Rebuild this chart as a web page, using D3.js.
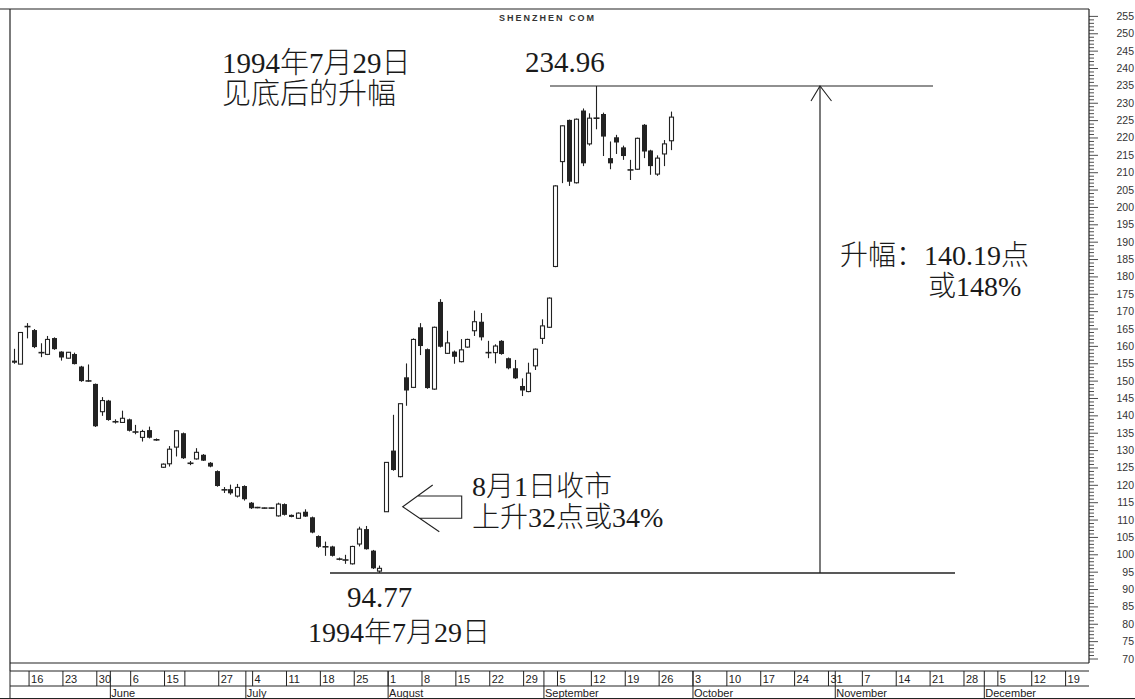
<!DOCTYPE html>
<html><head><meta charset="utf-8">
<script src="https://cdn.jsdelivr.net/npm/d3@7"></script>
<style>body{margin:0;background:#fff}svg{display:block}</style>
</head><body><svg id="c" width="1135" height="699"></svg>
<script>
// ---- data ----
const opens  = [155.9,154.9,165.8,164.7,158.4,157.7,162.4,158.5,156.6,157.8,154.2,150.2,149.2,141.2,144.4,138.4,138.1,139.0,135.5,133.8,135.9,133.2,125.2,126.2,131.0,135.0,126.5,127.6,128.8,126.5,124.1,118.8,118.9,116.9,119.8,115.0,113.7,113.5,113.5,111.2,114.6,111.5,110.5,112.4,110.8,105.4,102.4,102.4,98.9,98.6,97.4,103.1,107.4,101.2,95.3,112.4,130.0,122.5,151.1,148.2,165.5,159.2,147.7,172.8,158.0,158.5,155.6,159.8,164.5,167.1,158.3,158.2,161.6,156.6,153.7,148.6,147.0,154.4,162.3,165.5,183.0,213.2,225.2,207.1,227.9,218.3,225.8,226.9,214.2,220.2,217.3,211.0,211.0,223.8,216.4,209.6,215.4,219.2];
const highs  = [159.3,164.0,166.7,165.0,160.9,163.0,162.6,158.6,158.4,158.2,154.4,154.8,149.3,145.4,144.6,139.0,141.5,139.2,137.4,136.0,136.9,133.5,126.3,131.3,135.8,135.2,127.0,130.7,129.0,126.7,124.3,119.5,120.2,120.4,120.0,115.2,113.8,113.6,113.6,115.0,114.8,111.6,112.2,113.1,111.0,105.6,103.8,102.6,99.2,100.0,102.6,108.1,108.3,101.4,96.9,126.6,140.3,143.5,155.1,162.3,166.7,159.4,165.7,173.6,164.5,158.8,162.1,162.2,170.3,169.6,161.6,160.6,161.8,156.8,156.1,150.8,155.3,159.4,167.8,174.1,206.4,223.6,225.3,225.6,228.5,227.1,234.96,227.3,219.0,220.9,217.8,213.7,220.1,224.0,216.6,215.0,219.4,227.6];
const lows   = [155.0,154.9,162.3,159.5,156.9,157.5,159.0,155.9,156.5,154.8,149.8,149.8,136.8,140.0,138.6,137.8,138.0,135.5,134.7,132.6,133.5,132.8,125.0,125.4,128.3,127.6,125.8,127.4,127.0,125.2,119.6,117.8,117.3,116.5,115.6,113.2,113.4,113.3,113.3,111.0,111.3,110.8,110.3,110.9,106.2,102.0,99.7,99.5,98.4,97.4,97.2,102.4,101.5,95.9,94.77,112.4,124.2,122.3,142.9,148.0,157.5,147.8,147.5,159.7,157.8,155.0,155.4,159.6,163.0,161.7,156.6,155.1,157.6,153.4,150.6,145.7,146.8,153.2,160.7,165.3,182.8,207.0,206.2,206.9,211.9,217.8,222.5,214.8,211.0,215.4,213.7,207.9,210.8,214.2,209.4,209.1,211.9,216.5];
const closes = [155.3,164.0,165.6,159.8,158.0,162.0,159.2,156.8,158.3,154.9,150.0,149.9,137.0,144.4,138.8,138.2,139.3,135.7,135.2,135.5,133.7,133.0,126.1,130.4,135.7,127.8,126.2,129.5,127.1,125.4,119.8,118.6,117.7,119.4,116.0,113.4,113.5,113.4,113.4,114.6,111.5,110.9,112.0,111.0,106.4,102.3,102.2,99.7,98.6,98.4,102.4,107.4,101.6,96.1,96.1,126.6,124.4,143.5,147.3,162.0,160.1,148.0,165.5,159.9,161.0,157.0,159.0,162.0,167.1,162.6,158.1,160.1,157.8,153.7,150.8,147.3,152.3,159.2,165.9,173.9,206.2,223.5,207.4,225.4,212.7,225.7,225.6,220.4,212.7,218.7,214.8,210.6,219.9,216.1,211.9,214.2,218.3,226.0];
const firstDay    = "1994-05-12";
const lastDay     = "1994-12-23";
const skippedDays = ["1994-06-13","1994-06-14"];
const weekTickLabels = ["16","23","30","6","15","","27","4","11","18","25","1","8","15","22","29","5","12","19","26","3","10","17","24","31","7","14","21","28","5","12","19"];
const monthLabels = ["June","July","August","September","October","November","December"];
const yTickValues = [70,75,80,85,90,95,100,105,110,115,120,125,130,135,140,145,150,155,160,165,170,175,180,185,190,195,200,205,210,215,220,225,230,235,240,245,250,255];
const bottomValue = 94.77, topValue = 234.96;
const sourceLabel = "SHENZHEN COM";

// ---- layout ----
const L=10, T=9, R=1089, B=663, rowTop=671, rowMid=686, rowBot=699;
const ink="#222";
const svg=d3.select("#c");
svg.append("rect").attr("width",1135).attr("height",699).attr("fill","#fff");

// trading-day calendar
const parse=d3.utcParse("%Y-%m-%d"), fmt=d3.utcFormat("%Y-%m-%d");
const days=[];
for(let d=parse(firstDay); d<=parse(lastDay); d=d3.utcDay.offset(d,1)){
  const wd=d.getUTCDay();
  if(wd!==0 && wd!==6 && !skippedDays.includes(fmt(d))) days.push(d);
}
const x=d3.scaleLinear().domain([0,155]).range([13.5,1063.6]);
const y=d3.scaleLinear().domain([70,255]).range([659,16.4]);

// frame
svg.append("line").attr("x1",0).attr("x2",R).attr("y1",T).attr("y2",T).attr("stroke",ink).attr("stroke-width",1.2);
svg.append("line").attr("x1",L).attr("x2",L).attr("y1",T).attr("y2",rowTop).attr("stroke",ink).attr("stroke-width",1.2);
svg.append("line").attr("x1",R).attr("x2",R).attr("y1",T).attr("y2",B).attr("stroke",ink).attr("stroke-width",1.2);
svg.append("line").attr("x1",L).attr("x2",R).attr("y1",B).attr("y2",B).attr("stroke",ink).attr("stroke-width",1.2);

// right axis ticks
const minor=d3.range(70,256,1);
svg.append("g").selectAll("line").data(minor).join("line")
  .attr("x1",R).attr("x2",d=>R+(d%5===0?9:5))
  .attr("y1",d=>y(d)).attr("y2",d=>y(d)).attr("stroke",ink).attr("stroke-width",0.8);
svg.append("g").selectAll("text").data(yTickValues).join("text")
  .attr("x",1134).attr("y",d=>y(d)+3.5).attr("text-anchor","end")
  .attr("font-family","Liberation Sans, Arial, sans-serif").attr("font-size",10.5).attr("fill","#333")
  .text(d=>d);

// bottom date rows
const weekStarts=[], monthStarts=[];
days.forEach((d,i)=>{
  if(i===0) return;
  if(+d3.utcMonday.floor(d)!==+d3.utcMonday.floor(days[i-1])) weekStarts.push(i);
  if(d.getUTCMonth()!==days[i-1].getUTCMonth()) monthStarts.push(i);
});
const g=svg.append("g");
g.append("line").attr("x1",L).attr("x2",R).attr("y1",rowTop).attr("y2",rowTop).attr("stroke",ink);
g.append("line").attr("x1",L).attr("x2",R).attr("y1",rowMid).attr("y2",rowMid).attr("stroke",ink);
g.append("line").attr("x1",0).attr("x2",1135).attr("y1",rowBot-0.5).attr("y2",rowBot-0.5).attr("stroke",ink);
g.append("line").attr("x1",L).attr("x2",L).attr("y1",rowTop).attr("y2",rowBot).attr("stroke",ink);
weekTickLabels.forEach((lab,k)=>{
  const xi=x(weekStarts[k])+2;
  g.append("line").attr("x1",xi).attr("x2",xi).attr("y1",rowTop).attr("y2",rowMid).attr("stroke",ink);
  g.append("text").attr("x",xi+2).attr("y",rowMid-3).attr("font-family","Liberation Sans, Arial, sans-serif")
    .attr("font-size",11).attr("fill",ink).text(lab);
});
monthLabels.forEach((lab,k)=>{
  const xi=x(monthStarts[k])+2;
  g.append("line").attr("x1",xi).attr("x2",xi).attr("y1",rowTop).attr("y2",rowBot).attr("stroke",ink);
  g.append("text").attr("x",xi+1).attr("y",rowBot-2.5).attr("font-family","Liberation Sans, Arial, sans-serif")
    .attr("font-size",11).attr("fill",ink).text(lab);
});

// candles
const data=opens.map((o,i)=>({i,o,h:highs[i],l:lows[i],c:closes[i]}));
const cg=svg.append("g");
data.forEach(d=>{
  const cx=Math.round(x(d.i))+0.5;
  cg.append("line").attr("x1",cx).attr("x2",cx).attr("y1",y(d.h)).attr("y2",y(d.l)).attr("stroke",ink).attr("stroke-width",1.1);
  const top=y(Math.max(d.o,d.c)), bot=y(Math.min(d.o,d.c));
  if(bot-top<2){
    cg.append("line").attr("x1",cx-3).attr("x2",cx+3).attr("y1",(top+bot)/2).attr("y2",(top+bot)/2).attr("stroke",ink).attr("stroke-width",1.6);
  } else if(d.c>=d.o){
    cg.append("rect").attr("x",cx-2).attr("width",4).attr("y",top).attr("height",bot-top)
      .attr("fill","#fff").attr("stroke",ink).attr("stroke-width",1.1);
  } else {
    cg.append("rect").attr("x",cx-2.5).attr("width",5).attr("y",top).attr("height",bot-top).attr("fill",ink);
  }
});

// annotation lines
const a=svg.append("g").attr("stroke",ink).attr("fill","none");
a.append("line").attr("x1",550).attr("x2",933).attr("y1",y(topValue)).attr("y2",y(topValue)).attr("stroke-width",1.2);
a.append("line").attr("x1",330).attr("x2",955).attr("y1",y(bottomValue)).attr("y2",y(bottomValue)).attr("stroke-width",1.5);
a.append("line").attr("x1",820).attr("x2",820).attr("y1",y(bottomValue)).attr("y2",y(topValue)).attr("stroke-width",1.2);
a.append("path").attr("d",`M811,${y(topValue)+15}L820,${y(topValue)}L831.5,${y(topValue)+15}`).attr("stroke-width",1.1);
// hollow left arrow
a.append("path").attr("d","M432.7,485L402.7,506.7L439.3,531.7M417.5,496L461.7,496L461.7,518.3L419.7,518.3").attr("stroke-width",1.1);

// texts
const font="'Liberation Serif','Times New Roman','Noto Sans CJK SC',serif";
const txt=(s,xx,yy,size,anchor)=>svg.append("text").attr("x",xx).attr("y",yy).attr("font-family",font)
  .attr("font-size",size).attr("font-weight",300).attr("fill","#1a1a1a").attr("text-anchor",anchor||"start").text(s);
txt("1994年7月29日",222,73,29);
txt("见底后的升幅",222,104,29);
txt(String(topValue),525,72,29);
txt(String(bottomValue),347,607,29);
txt("1994年7月29日",308,642,28);
txt("8月1日收市",472,496,28);
txt("上升32点或34%",472,527,28);
txt("升幅：140.19点",840,265,28);
txt("或148%",928,296,28);
svg.append("text").attr("x",499).attr("y",21).attr("font-family","Liberation Sans, Arial, sans-serif")
  .attr("font-weight","bold").attr("font-size",9).attr("letter-spacing",2).attr("fill","#333").text(sourceLabel);
</script></body></html>
